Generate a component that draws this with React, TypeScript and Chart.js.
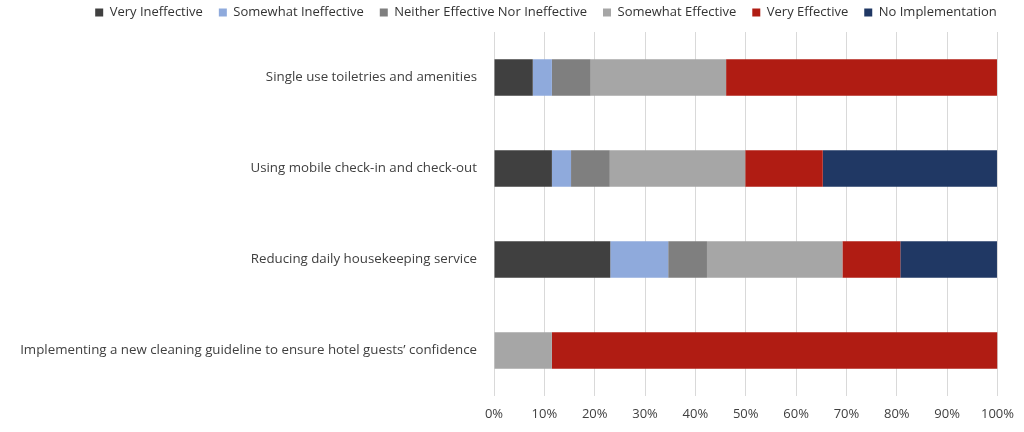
import { useEffect, useRef } from 'react'
import { Chart, registerables } from 'chart.js'

Chart.register(...registerables)

// practices, top to bottom
const categories = [
    'Single use toiletries and amenities',
    'Using mobile check-in and check-out',
    'Reducing daily housekeeping service',
    'Implementing a new cleaning guideline to ensure hotel guests\u2019 confidence',
]

// share of respondents (%) per rating
const veryIneffective = [7.7, 11.5, 23.1, 0]
const somewhatIneffective = [3.8, 3.8, 11.5, 0]
const neither = [7.7, 7.7, 7.7, 0]
const somewhatEffective = [26.9, 26.9, 26.9, 11.5]
const veryEffective = [53.8, 15.4, 11.5, 88.5]
const noImplementation = [0, 34.6, 19.2, 0]

const FONT = '"Open Sans", "Noto Sans", sans-serif'

export default function App() {
    const canvasRef = useRef<HTMLCanvasElement>(null)

    useEffect(() => {
        if (!canvasRef.current) return
        const chart = new Chart(canvasRef.current, {
            type: 'bar',
            data: {
                labels: categories,
                datasets: [
                    { label: 'Very Ineffective', data: veryIneffective, backgroundColor: '#404040' },
                    { label: 'Somewhat Ineffective', data: somewhatIneffective, backgroundColor: '#8faadc' },
                    { label: 'Neither Effective Nor Ineffective', data: neither, backgroundColor: '#7f7f7f' },
                    { label: 'Somewhat Effective', data: somewhatEffective, backgroundColor: '#a6a6a6' },
                    { label: 'Very Effective', data: veryEffective, backgroundColor: '#b01c13' },
                    { label: 'No Implementation', data: noImplementation, backgroundColor: '#203864' },
                ],
            },
            options: {
                indexAxis: 'y',
                animation: false,
                responsive: false,
                datasets: { bar: { categoryPercentage: 1, barPercentage: 0.4 } },
                layout: { padding: { left: 0, right: 26, top: 0, bottom: 0 } },
                plugins: {
                    tooltip: { enabled: false },
                    legend: {
                        position: 'top',
                        labels: {
                            boxWidth: 8,
                            boxHeight: 8,
                            padding: 16,
                            color: '#333333',
                            font: { family: FONT, size: 13 },
                        },
                    },
                },
                scales: {
                    x: {
                        stacked: true,
                        min: 0,
                        max: 100,
                        grid: { color: '#d9d9d9', drawTicks: false },
                        border: { display: false },
                        ticks: {
                            stepSize: 10,
                            padding: 10,
                            color: '#404040',
                            font: { family: FONT, size: 13 },
                            callback: v => v + '%',
                        },
                        afterFit: s => { s.height = 36 },
                    },
                    y: {
                        stacked: true,
                        grid: { display: false, drawTicks: false },
                        border: { display: false },
                        ticks: {
                            padding: 17,
                            color: '#404040',
                            font: { family: FONT, size: 13.3 },
                        },
                        afterFit: s => { s.width = 494 },
                    },
                },
            },
            plugins: [{
                id: 'legendPlace',
                beforeInit(c: any) {
                    const fit = c.legend.fit
                    c.legend.fit = function () {
                        fit.bind(c.legend)()
                        this.height = 32
                    }
                },
                afterLayout(c: any) {
                    c.legend.left += 47
                    c.legend.right += 47
                    c.legend.top -= 10
                },
            }],
        })
        return () => { chart.destroy() }
    }, [])

    return (
        <div style={{ position: 'fixed', left: 0, top: 0, width: 1024, height: 432, background: '#fff' }}>
            <canvas ref={canvasRef} width={1024} height={432} />
        </div>
    )
}
